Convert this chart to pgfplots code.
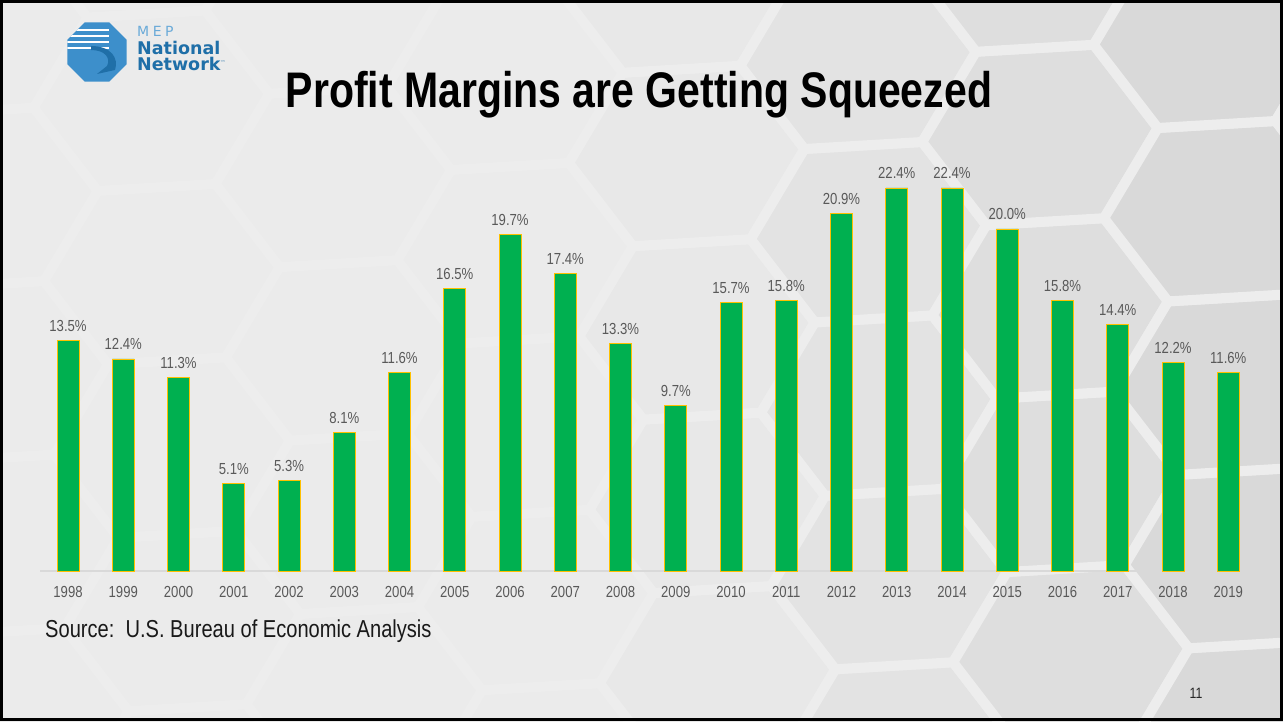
\documentclass[border=0pt]{standalone}
\usepackage{pgfplots}
\pgfplotsset{compat=1.18}
\usepackage{fontspec}
\setmainfont{Liberation Sans}[FakeStretch=0.82]
\newfontfamily\logofont{DejaVu Sans}
\newfontfamily\meplogo{DejaVu Sans}[LetterSpace=25]
\definecolor{bg}{HTML}{EBEBEB}
\definecolor{cellc}{HTML}{D9D9D9}
\definecolor{hexline}{HTML}{EDEDED}
\definecolor{bargreen}{HTML}{00B050}
\definecolor{barline}{HTML}{FFC000}
\definecolor{txt}{HTML}{595959}
\definecolor{axisgray}{HTML}{D9D9D9}
\definecolor{logolight}{HTML}{6AAAD8}
\definecolor{logodark}{HTML}{1F6FA8}
\definecolor{logoblue}{HTML}{3D8FCB}
\begin{document}
\begin{tikzpicture}[x=1pt,y=1pt]
\useasboundingbox (0,0) rectangle (1283,721);
\fill[bg] (0,0) rectangle (1283,721);
% hexagon background
\begin{scope}
\clip (0,0) rectangle (1283,721);
\begin{scope}[shift={(1040,586)}, rotate=3.4, yscale=0.85]
\foreach \i in {-6,...,2}{
 \foreach \j in {-4,...,3}{
   \pgfmathsetmacro\cx{\i*177}
   \pgfmathsetmacro\cy{\j*204.4 + mod(abs(\i),2)*102.2}
   \pgfmathsetmacro\f{max(0,min(100,(1040+\cx-600)/6))}
   \filldraw[fill=cellc!\f!bg, draw=hexline, line width=10pt] (\cx,\cy) +(0:118) -- +(60:118) -- +(120:118) -- +(180:118) -- +(240:118) -- +(300:118) -- cycle;
 }}
\end{scope}
\end{scope}
% logo
\begin{scope}[shift={(97,669)}]
\fill[logoblue] (22.5:32) -- (67.5:32) -- (112.5:32) -- (157.5:32) -- (202.5:32) -- (247.5:32) -- (292.5:32) -- (337.5:32) -- cycle;
\begin{scope}
\clip (22.5:32) -- (67.5:32) -- (112.5:32) -- (157.5:32) -- (202.5:32) -- (247.5:32) -- (292.5:32) -- (337.5:32) -- cycle;
\foreach \dy in {22,16,10,4}{\draw[white, line width=2pt] (-34,\dy) -- (12,\dy);}
\fill[logodark] (-6,2) .. controls (8,2) and (14,-6) .. (10,-14) -- (0,-22) -- (18,-18) .. controls (22,-6) and (14,6) .. (-6,6) -- cycle;
\end{scope}
\end{scope}
\node[anchor=base west, inner sep=0, text=logolight, font=\meplogo\fontsize{14}{16}\selectfont] at (137,684) {MEP};
\node[anchor=base west, inner sep=0, text=logodark, font=\logofont\bfseries\fontsize{17.5}{19}\selectfont] at (137,666) {National};
\node[anchor=base west, inner sep=0, text=logodark, font=\logofont\bfseries\fontsize{17.5}{19}\selectfont] at (137,650) {Network\raisebox{6pt}{\fontsize{5}{5}\selectfont\textmd{™}}};
% title
\node[anchor=base, inner sep=0, font=\bfseries\fontsize{50}{56}\selectfont] at (639,613) {Profit Margins are Getting Squeezed};
% source and page number
\node[anchor=base west, inner sep=0, text=black!90, font=\fontsize{24.5}{28}\selectfont] at (45,84) {Source:\ \ U.S. Bureau of Economic Analysis};
\node[anchor=base, inner sep=0, text=black!85, font=\fontsize{15}{17}\selectfont] at (1196,23) {11};
\begin{axis}[
  at={(40pt,150pt)}, anchor=south west,
  scale only axis, width=1217pt, height=427.5pt,
  xmin=-0.507, xmax=21.52, ymin=0, ymax=25,
  axis x line*=bottom, axis y line=none,
  x axis line style={draw=axisgray, line width=1.5pt},
  xtick={0,...,21},
  xticklabels={1998,1999,2000,2001,2002,2003,2004,2005,2006,2007,2008,2009,2010,2011,2012,2013,2014,2015,2016,2017,2018,2019},
  major tick length=0pt,
  xticklabel style={anchor=base, yshift=-26pt, text=txt, font=\fontsize{16}{18}\selectfont, inner sep=0pt},
  ybar, bar width=22pt,
  clip=false,
  /pgf/number format/assume math mode=true,
  nodes near coords={\pgfmathprintnumber[fixed,fixed zerofill,precision=1]{\pgfplotspointmeta}\%},
  nodes near coords style={anchor=base, yshift=9pt, inner sep=0pt, text=txt, font=\fontsize{16}{18}\selectfont},
]
\addplot[fill=bargreen, draw=barline, line width=0.8pt] coordinates {
(0,13.5) (1,12.4) (2,11.3) (3,5.1) (4,5.3) (5,8.1) (6,11.6) (7,16.5) (8,19.7) (9,17.4) (10,13.3)
(11,9.7) (12,15.7) (13,15.8) (14,20.9) (15,22.4) (16,22.4) (17,20.0) (18,15.8) (19,14.4) (20,12.2) (21,11.6)};
\end{axis}
\draw[black, line width=3pt] (1.5,1.5) rectangle (1281.5,719.5);
\end{tikzpicture}
\end{document}
